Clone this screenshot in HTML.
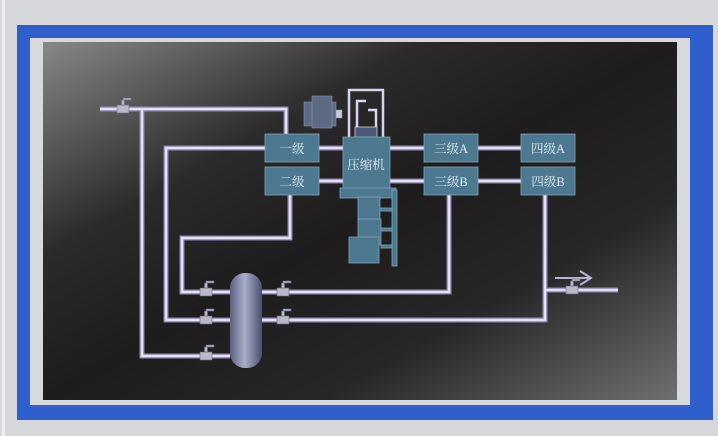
<!DOCTYPE html>
<html><head><meta charset="utf-8"><style>
html,body{margin:0;padding:0;width:718px;height:436px;overflow:hidden;background:#d4d5d8}
svg{display:block}
text{font-family:"Liberation Serif","Noto Serif CJK SC",serif;font-size:12.5px;fill:#e4ecf2}
</style></head><body>
<svg width="718" height="436" viewBox="0 0 718 436">
<defs>
<linearGradient id="scr" x1="0" y1="0" x2="1" y2="1">
<stop offset="0" stop-color="#888888"/>
<stop offset="0.3" stop-color="#2c2a2b"/>
<stop offset="0.5" stop-color="#1e1c1d"/>
<stop offset="0.72" stop-color="#282728"/>
<stop offset="1" stop-color="#707070"/>
</linearGradient>
<linearGradient id="tank" x1="0" x2="1"><stop offset="0" stop-color="#5a6080"/><stop offset="0.45" stop-color="#a8aec8"/><stop offset="1" stop-color="#4a5070"/></linearGradient>
</defs>
<rect x="0" y="0" width="718" height="436" fill="#d6d7da"/>
<rect x="2" y="0" width="3" height="436" fill="#eee"/>
<rect x="17" y="25" width="696" height="395" fill="#2f5fcc"/>
<rect x="30" y="38" width="660" height="367" fill="#d8d9dc"/>
<rect x="43" y="42" width="634" height="358" fill="url(#scr)"/>
<g fill="none" stroke-linejoin="miter">
<g stroke="#8e86b0" stroke-width="5">
<path d="M100 109H286V134M142 109V356H230M266 148H166V320H230M290 195V238H182V292H230M262 292H449V195M262 320H545V195M545 290H618M319 148H343M319 181H343M390 148H424M390 181H424M478 148H521M478 181H521"/>
</g>
<g stroke="#e4e0f4" stroke-width="2.5">
<path d="M100 109H286V134M142 109V356H230M266 148H166V320H230M290 195V238H182V292H230M262 292H449V195M262 320H545V195M545 290H618M319 148H343M319 181H343M390 148H424M390 181H424M478 148H521M478 181H521"/>
</g>
<path d="M555 278H590M580 271L591 278L580 285" stroke="#b8b0d8" stroke-width="2"/>
<path d="M349 137V90H383V137M357 128V101H366M376 128V110H368" stroke="#d8d4ec" stroke-width="2.5"/>
</g>
<g fill="#b8b8c8" stroke="#6a6a80" stroke-width="0.6">
<g transform="translate(123,109)"><rect x="-6" y="-4" width="12" height="8"/><rect x="-1.5" y="-9" width="3" height="5"/><rect x="0" y="-11" width="8" height="2"/></g>
<g transform="translate(206,292)"><rect x="-6" y="-4" width="12" height="8"/><rect x="-1.5" y="-9" width="3" height="5"/><rect x="0" y="-11" width="8" height="2"/></g>
<g transform="translate(206,320)"><rect x="-6" y="-4" width="12" height="8"/><rect x="-1.5" y="-9" width="3" height="5"/><rect x="0" y="-11" width="8" height="2"/></g>
<g transform="translate(206,356)"><rect x="-6" y="-4" width="12" height="8"/><rect x="-1.5" y="-9" width="3" height="5"/><rect x="0" y="-11" width="8" height="2"/></g>
<g transform="translate(283,292)"><rect x="-6" y="-4" width="12" height="8"/><rect x="-1.5" y="-9" width="3" height="5"/><rect x="0" y="-11" width="8" height="2"/></g>
<g transform="translate(283,320)"><rect x="-6" y="-4" width="12" height="8"/><rect x="-1.5" y="-9" width="3" height="5"/><rect x="0" y="-11" width="8" height="2"/></g>
<g transform="translate(572,290)"><rect x="-6" y="-4" width="12" height="8"/><rect x="-1.5" y="-9" width="3" height="5"/><rect x="0" y="-11" width="8" height="2"/></g>
</g>
<rect x="230" y="273" width="32" height="95" rx="15" fill="url(#tank)"/>
<g fill="#5c6a84" stroke="#8a96b0" stroke-width="0.6">
<rect x="304" y="102" width="32" height="24"/>
<rect x="312" y="96" width="20" height="32"/>
<rect x="336" y="110" width="6" height="8" fill="#c8ccd8"/>
</g>
<g fill="#4d7990" stroke="#7fa4b8" stroke-width="0.8">
<rect x="265" y="134" width="54" height="28"/>
<rect x="265" y="167" width="54" height="28"/>
<rect x="424" y="134" width="54" height="28"/>
<rect x="424" y="167" width="54" height="28"/>
<rect x="521" y="134" width="54" height="28"/>
<rect x="521" y="167" width="54" height="28"/>
<rect x="355" y="127" width="22" height="10" fill="#4a5a7a" stroke="#d0d0e0"/>
<rect x="343" y="137" width="47" height="53"/>
<rect x="340" y="188" width="56" height="10"/>
<rect x="392" y="190" width="5" height="76"/>
<rect x="358" y="197" width="22" height="24"/>
<rect x="358" y="219" width="23" height="26"/>
<rect x="349" y="237" width="30" height="26"/>
<rect x="381" y="208" width="11" height="3"/><rect x="381" y="228" width="11" height="3"/><rect x="381" y="245" width="11" height="3"/>
</g>
<text x="292" y="153" text-anchor="middle">一级</text>
<text x="292" y="186" text-anchor="middle">二级</text>
<text x="366" y="169" text-anchor="middle">压缩机</text>
<text x="451" y="153" text-anchor="middle">三级A</text>
<text x="451" y="186" text-anchor="middle">三级B</text>
<text x="548" y="153" text-anchor="middle">四级A</text>
<text x="548" y="186" text-anchor="middle">四级B</text>
</svg>
</body></html>
